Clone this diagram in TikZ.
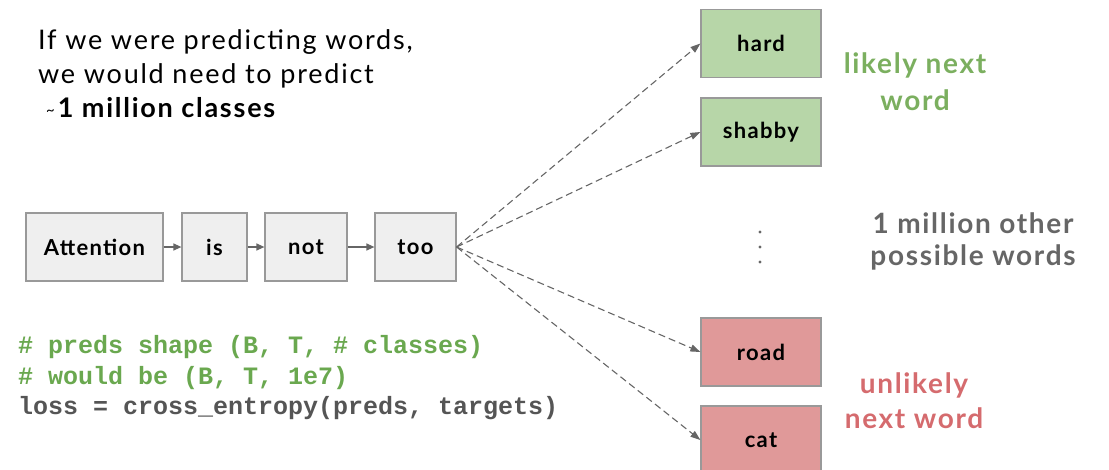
\documentclass[tikz,border=0pt]{standalone}
\usepackage{fontspec}
\setmainfont{Lato}
\setmonofont{Liberation Mono}
\newfontfamily\widefont[LetterSpace=6]{Lato}
\newfontfamily\headfont[LetterSpace=6.5]{Lato}
\usetikzlibrary{arrows.meta}

\definecolor{boxgray}{HTML}{EFEFEF}
\definecolor{boxline}{HTML}{999999}
\definecolor{likelyfill}{HTML}{B7D6A8}
\definecolor{unlikelyfill}{HTML}{E09999}
\definecolor{likelytext}{HTML}{7BAF5F}
\definecolor{unlikelytext}{HTML}{D56B6E}
\definecolor{graytext}{HTML}{666666}
\definecolor{codegreen}{HTML}{6AA84F}
\definecolor{codegray}{HTML}{555555}
\definecolor{arrowgray}{HTML}{666666}

\tikzset{
  wordbox/.style={draw=boxline, line width=1.2pt, fill=boxgray, rectangle,
    minimum height=68pt, inner sep=0pt, font=\widefont\fontsize{22}{24}\selectfont\bfseries},
  candbox/.style={wordbox, minimum width=120pt},
  goodbox/.style={candbox, fill=likelyfill},
  badbox/.style={candbox, fill=unlikelyfill},
  flow/.style={draw=arrowgray, line width=1.2pt, -{Triangle[length=8pt,width=7pt]}},
  guess/.style={draw=arrowgray, line width=1.1pt, dash pattern=on 7pt off 4pt,
    -{Triangle[length=10pt,width=7pt]}},
  note/.style={align=center, inner sep=0pt, anchor=base},
  heading/.style={anchor=base west, inner sep=0pt, font=\headfont\fontsize{27}{34}\selectfont},
  code/.style={anchor=base west, inner sep=0pt, font=\fontsize{25}{30}\selectfont\ttfamily\bfseries},
}

\begin{document}
\begin{tikzpicture}[x=1pt, y=-1pt]
\useasboundingbox (0,0) rectangle (1109,469);

% heading
\node[heading] (h1) at (38,49) {If we were predicting words,};
\node[heading] (h2) at (38,83) {we would need to predict};
\node[heading] (h3) at (46,117) {{\fontsize{15}{15}\selectfont\raisebox{2pt}{\textasciitilde}}\hspace{3pt}\textbf{1 million classes}};

% input sequence
\node[wordbox, minimum width=137pt] (w1) at (94.5,247) {Attention};
\node[wordbox, minimum width=65pt] (w2) at (214.5,247) {is};
\node[wordbox, minimum width=82pt] (w3) at (306,247) {not};
\node[wordbox, minimum width=81pt] (w4) at (415.5,247) {too};

\draw[flow] (w1) -- (w2);
\draw[flow] (w2) -- (w3);
\draw[flow] (w3) -- (w4);

% candidate next words
\node[goodbox] (c1) at (761,43.5) {hard};
\node[goodbox] (c2) at (761,132) {shabby};
\node[badbox] (c3) at (761,352) {road};
\node[badbox] (c4) at (761,440) {cat};

\foreach \c in {c1,c2,c3,c4}
  \draw[guess] (w4.east) -- (\c.west);

% vertical ellipsis
\foreach \yy/\n in {232/d1,247/d2,262/d3}
  \fill[graytext] (760,\yy) circle (1.6pt) coordinate (\n);

% annotations (anchored on the baseline of their last line)
\node[note, text=likelytext, font=\widefont\fontsize{28}{37}\selectfont\bfseries] (l1) at (915,110) {likely next\\word};
\node[note, text=graytext, font=\widefont\fontsize{28}{32}\selectfont\bfseries] (l2) at (973,265) {1 million other\\possible words};
\node[note, text=unlikelytext, font=\widefont\fontsize{28}{35}\selectfont\bfseries] (l3) at (914,428) {unlikely\\next word};

% code
\node[code, text=codegreen] (k1) at (18,353) {\# preds shape (B, T, \# classes)};
\node[code, text=codegreen] (k2) at (18,384) {\# would be (B, T, 1e7)};
\node[code, text=codegray] (k3) at (18,414) {loss = cross\_entropy(preds, targets)};
\end{tikzpicture}
\end{document}
